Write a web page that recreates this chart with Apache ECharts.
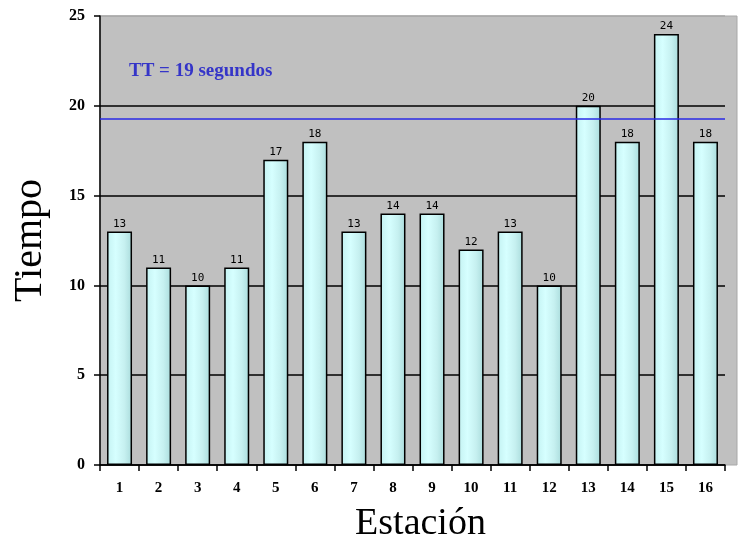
<!DOCTYPE html>
<html>
<head>
<meta charset="utf-8">
<script src="https://cdn.jsdelivr.net/npm/echarts@6/dist/echarts.min.js"></script>
<style>
html,body{margin:0;padding:0;background:#fff;}
#main{width:738px;height:544px;}
</style>
</head>
<body>
<div id="main"></div>
<script>
var estaciones=['1','2','3','4','5','6','7','8','9','10','11','12','13','14','15','16'];
var tiempos=[13,11,10,11,17,18,13,14,14,12,13,10,20,18,24,18];
var tt=19.3;

var myChart=echarts.init(document.getElementById('main'))
myChart.setOption({
    animation:false,
    title:{
        text:'TT = 19 segundos',
        left:124,
        top:57,
        textStyle:{fontFamily:'Liberation Serif',fontWeight:'bold',fontSize:19,color:'#3535c8'}
    },
    graphic:[{
        type:'rect',
        z:-10,
        shape:{x:100,y:16,width:637,height:449},
        style:{fill:'#c0c0c0',stroke:'#a8a8a8',lineWidth:1}
    }],
    grid:{left:100,right:13,top:16,bottom:79,containLabel:false,outerBoundsMode:'none'},
    xAxis:{
        type:'category',
        data:estaciones,
        name:'Estación',
        nameLocation:'middle',
        nameGap:40,
        nameTextStyle:{fontFamily:'Liberation Serif',fontSize:38,color:'#000',padding:[0,0,0,16]},
        axisLine:{lineStyle:{color:'#000',width:1.5}},
        axisTick:{show:true,length:6,lineStyle:{color:'#000',width:1.5}},
        axisLabel:{fontFamily:'Liberation Serif',fontWeight:'bold',fontSize:15,color:'#000',margin:16}
    },
    yAxis:{
        type:'value',
        min:0,max:25,interval:5,
        name:'Tiempo',
        nameLocation:'middle',
        nameGap:50,
        nameTextStyle:{fontFamily:'Liberation Serif',fontSize:40,color:'#000'},
        axisLine:{show:true,lineStyle:{color:'#000',width:1.5}},
        axisTick:{show:true,length:6,lineStyle:{color:'#000',width:1.5}},
        axisLabel:{fontFamily:'Liberation Serif',fontWeight:'bold',fontSize:16,color:'#000',margin:15},
        splitLine:{lineStyle:{color:['#000','#000','#000','#000','#000','#a8a8a8'],width:1.5}}
    },
    series:[{
        type:'bar',
        data:tiempos,
        barWidth:25,
        itemStyle:{
            color:new echarts.graphic.LinearGradient(0,0,1,0,[
                {offset:0,color:'#c4f2f2'},
                {offset:0.35,color:'#d6ffff'},
                {offset:0.7,color:'#c6f0f0'},
                {offset:1,color:'#aadcdc'}
            ]),
            borderColor:'#000',
            borderWidth:1.5
        },
        label:{show:true,position:'top',distance:2,fontFamily:'DejaVu Sans Mono',fontSize:11,color:'#000'},
        markLine:{
            silent:true,
            symbol:'none',
            label:{show:false},
            lineStyle:{color:'#2a2ae6',width:1.5,type:'solid'},
            data:[{yAxis:tt}]
        }
    }]
})
</script>
</body>
</html>
